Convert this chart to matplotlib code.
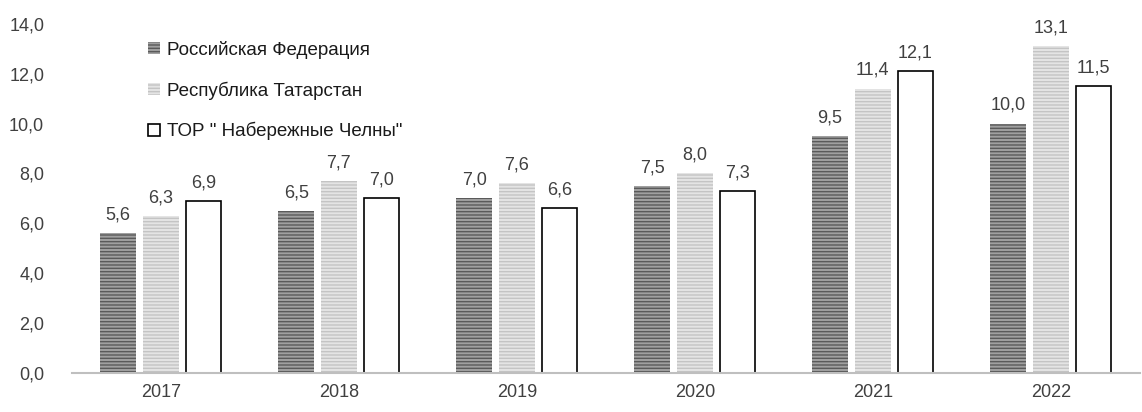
import matplotlib.pyplot as plt
from matplotlib.patches import Patch
import numpy as np

years = ["2017", "2018", "2019", "2020", "2021", "2022"]
rf = [5.6, 6.5, 7.0, 7.5, 9.5, 10.0]
rt = [6.3, 7.7, 7.6, 8.0, 11.4, 13.1]
tor = [6.9, 7.0, 6.6, 7.3, 12.1, 11.5]
labels = ["Российская Федерация", "Республика Татарстан", 'ТОР " Набережные Челны"']

plt.rcParams['font.family'] = ['Liberation Sans', 'DejaVu Sans']
plt.rcParams['hatch.linewidth'] = 1.0
txt = '#404040'
fs = 13

fig = plt.figure(figsize=(11.42, 4.12), dpi=100)
ax = fig.add_axes([0.063, 0.095, 0.935, 0.847])

x = np.arange(len(years))
w = 0.2
styles = [
    dict(color='#a0a0a0', edgecolor='#5a5a5a', hatch='-----', linewidth=0),
    dict(color='#e4e4e4', edgecolor='#c4c4c4', hatch='-----', linewidth=0),
    dict(color='white', edgecolor='black', linewidth=1.2),
]
series = [rf, rt, tor]
for i, (vals, st) in enumerate(zip(series, styles)):
    pos = x + (i - 1) * 0.24
    ax.bar(pos, vals, w, **st)
    for p, v in zip(pos, vals):
        ax.annotate(f"{v:.1f}".replace('.', ','), (p, v), xytext=(0, 7),
                    textcoords='offset points', ha='center', va='bottom',
                    fontsize=fs, color=txt)

ax.set_xlim(-0.5, len(years) - 0.5)
ax.set_ylim(0, 14)
ax.set_yticks(np.arange(0, 15, 2))
ax.set_yticklabels([f"{t:.1f}".replace('.', ',') for t in np.arange(0, 15, 2)])
ax.set_xticks(x)
ax.set_xticklabels(years)
ax.tick_params(axis='both', length=0, labelsize=fs, colors=txt)
ax.tick_params(axis='y', pad=20)
ax.tick_params(axis='x', pad=8)
for s in ['top', 'right', 'left']:
    ax.spines[s].set_visible(False)
ax.spines['bottom'].set_color('#bfbfbf')
ax.spines['bottom'].set_linewidth(1.5)

handles = [Patch(facecolor=st['color'], edgecolor=st['edgecolor'], hatch=st.get('hatch'),
                 linewidth=st['linewidth']) for st in styles]
leg = ax.legend(handles, labels, loc='upper left', bbox_to_anchor=(0.055, 1.0),
                frameon=False, fontsize=13.5, labelspacing=1.2, handlelength=0.65,
                handleheight=0.65, handletextpad=0.4)
for t in leg.get_texts():
    t.set_color('#1a1a1a')

fig.savefig('out.png', dpi=100)
